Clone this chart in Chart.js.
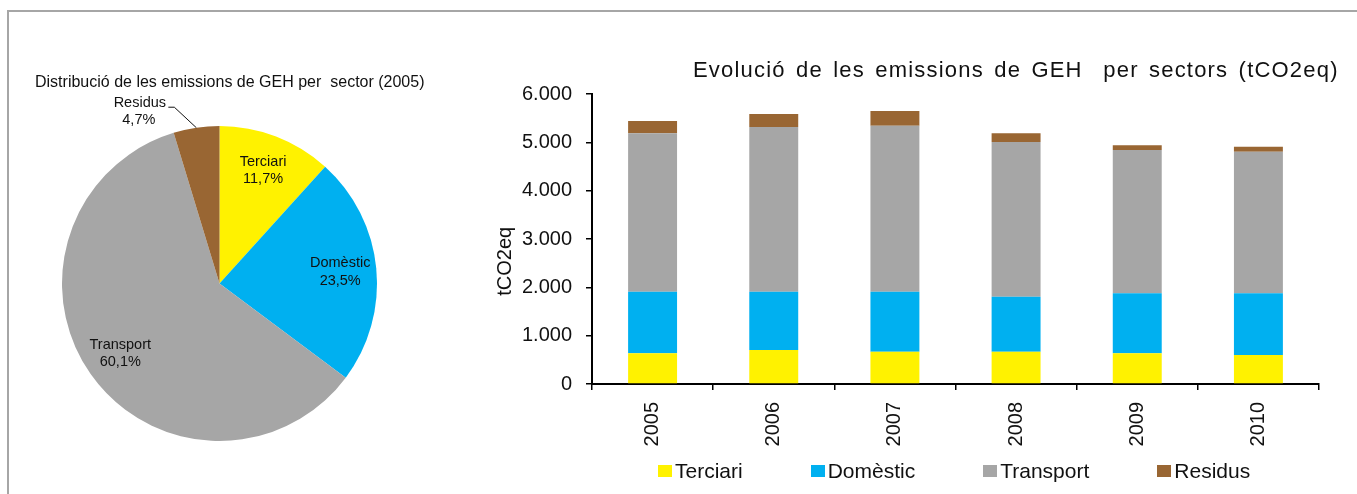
<!DOCTYPE html>
<html>
<head>
<meta charset="utf-8">
<script src="https://cdn.jsdelivr.net/npm/chart.js@4/dist/chart.umd.min.js"></script>
<style>
  body { margin: 0; background: #fff; font-family: "Liberation Sans", Arial, sans-serif; color: #111; }
  #wrap { position: relative; width: 1357px; height: 494px; overflow: hidden; }
  #frame { position: absolute; left: 7px; top: 10px; width: 2000px; height: 1000px;
           border-top: 2px solid #a6a6a6; border-left: 2px solid #a6a6a6; }
  canvas { position: absolute; top: 0; }
  #pieTitle { position: absolute; left: 35px; top: 74px; font-size: 16px; line-height: 16px; white-space: pre; }
  #barTitle { position: absolute; left: 693px; top: 59px; font-size: 22px; line-height: 22px;
              letter-spacing: 1.2px; word-spacing: 3px; white-space: pre; }
  #legend { position: absolute; left: 658px; top: 460px; display: flex; font-size: 21px; line-height: 22px; }
  #legend .item { display: flex; align-items: center; margin-right: 68px; }
  #legend .box { width: 14px; height: 12px; margin-right: 3px; }
</style>
</head>
<body>
<div id="wrap">
  <div id="frame"></div>
  <canvas id="pieChart" width="460" height="494" style="left:0"></canvas>
  <canvas id="barChart" width="897" height="494" style="left:460px"></canvas>
  <div id="pieTitle">Distribució de les emissions de GEH per  sector (2005)</div>
  <div id="barTitle">Evolució de les emissions de GEH  per sectors (tCO2eq)</div>
  <div id="legend"></div>
</div>
<script>
var sectors = ['Terciari', 'Domèstic', 'Transport', 'Residus'];
var colors = ['#FFF200', '#00B0F0', '#A6A6A6', '#996633'];

// pie: share of 2005 emissions (%)
var share2005 = [11.7, 23.5, 60.1, 4.7];

// bars: tCO2eq per year
var years = ['2005', '2006', '2007', '2008', '2009', '2010'];
var terciari = [635, 703, 669, 669, 635, 600];
var domestic = [1275, 1207, 1241, 1138, 1241, 1276];
var transport = [3276, 3407, 3435, 3200, 2965, 2931];
var residus = [255, 269, 303, 179, 97, 103];

var yTicks = [0, 1000, 2000, 3000, 4000, 5000, 6000];

Chart.defaults.font.family = '"Liberation Sans", Arial, sans-serif';
Chart.defaults.color = '#111';

function fmtThousands(v) {
    return String(v).replace(/\B(?=(\d{3})+(?!\d))/g, '.');
}

// labels inside / outside the pie slices
var pieLabels = {
    id: 'pieLabels',
    afterDatasetsDraw: function(chart) {
        var ctx = chart.ctx;
        var arcs = chart.getDatasetMeta(0).data;
        ctx.save();
        ctx.font = '14.5px "Liberation Sans", Arial, sans-serif';
        ctx.fillStyle = '#111';
        ctx.textAlign = 'center';
        ctx.textBaseline = 'middle';
        arcs.forEach(function(arc, i) {
            var p = arc.getProps(['x', 'y', 'startAngle', 'endAngle', 'outerRadius'], true);
            var mid = (p.startAngle + p.endAngle) / 2;
            var pct = share2005[i].toFixed(1).replace('.', ',') + '%';
            if (share2005[i] < 8) {
                // small slice: label outside with a leader line
                var ax = p.x + Math.cos(mid) * p.outerRadius;
                var ay = p.y + Math.sin(mid) * p.outerRadius;
                var ex = ax - 22, ey = ay - 20.5;
                ctx.strokeStyle = '#111';
                ctx.lineWidth = 1;
                ctx.beginPath();
                ctx.moveTo(ax, ay);
                ctx.lineTo(ex, ey);
                ctx.lineTo(ex - 6, ey);
                ctx.stroke();
                ctx.fillText(sectors[i], ex - 34.5, ey - 4.5);
                ctx.fillText(pct, ex - 35.5, ey + 13);
            } else {
                var r = p.outerRadius * 0.77;
                var lx = p.x + Math.cos(mid) * r;
                var ly = p.y + Math.sin(mid) * r;
                ctx.fillText(sectors[i], lx, ly - 8.5);
                ctx.fillText(pct, lx, ly + 9);
            }
        });
        ctx.restore();
    }
};

var pieChart = new Chart(document.getElementById('pieChart'), {
    type: 'pie',
    data: {
        labels: sectors,
        datasets: [{
            data: share2005,
            backgroundColor: colors,
            borderWidth: 0
        }]
    },
    options: {
        responsive: false,
        devicePixelRatio: 1,
        animation: false,
        layout: { padding: { left: 62, top: 126, right: 83, bottom: 53 } },
        plugins: { legend: { display: false }, tooltip: { enabled: false } }
    },
    plugins: [pieLabels]
});

var seriesValues = [terciari, domestic, transport, residus];
var barDatasets = sectors.map(function(name, i) {
    return {
        label: name,
        data: seriesValues[i],
        backgroundColor: colors[i],
        borderWidth: 0,
        barPercentage: 0.404,
        categoryPercentage: 1
    };
});

var barChart = new Chart(document.getElementById('barChart'), {
    type: 'bar',
    data: { labels: years, datasets: barDatasets },
    options: {
        responsive: false,
        devicePixelRatio: 1,
        animation: false,
        layout: { padding: { left: 30, right: 38, top: 94, bottom: 0 } },
        plugins: { legend: { display: false }, tooltip: { enabled: false } },
        scales: {
            x: {
                stacked: true,
                afterFit: function(scale) { scale.height = 110; },
                grid: { drawOnChartArea: false, tickLength: 6, color: '#000', lineWidth: 1.5 },
                border: { color: '#000', width: 2 },
                ticks: {
                    autoSkip: false, minRotation: 90, maxRotation: 90, padding: 12,
                    color: '#111', font: { size: 20 }
                }
            },
            y: {
                stacked: true,
                min: 0,
                max: 6000,
                afterFit: function(scale) { scale.width = 102; },
                afterBuildTicks: function(scale) {
                    scale.ticks = yTicks.map(function(v) { return { value: v }; });
                },
                grid: { drawOnChartArea: false, tickLength: 6, color: '#000', lineWidth: 1.5 },
                border: { color: '#000', width: 2 },
                ticks: {
                    padding: 14, color: '#111', font: { size: 20 },
                    callback: function(v) { return fmtThousands(v); }
                },
                title: {
                    // trailing spaces push the rotated text a little below the middle, as in the original
                    display: true, text: 'tCO2eq        ', color: '#111',
                    font: { size: 20 }, padding: { top: 3, bottom: 0 }
                }
            }
        }
    }
});

// legend for the bar chart
var legend = document.getElementById('legend');
sectors.forEach(function(name, i) {
    var item = document.createElement('div');
    item.className = 'item';
    item.innerHTML = '<span class="box" style="background:' + colors[i] + '"></span><span>' + name + '</span>';
    legend.appendChild(item);
});
</script>
</body>
</html>
